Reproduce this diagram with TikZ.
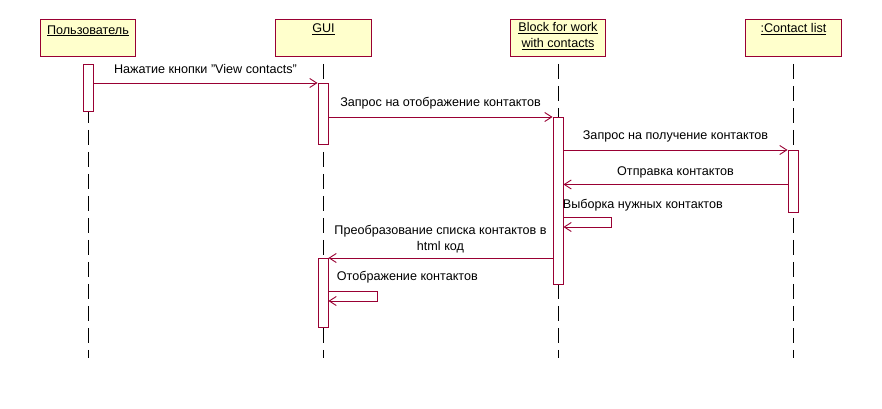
\documentclass[tikz,border=0pt]{standalone}
\usepackage{fontspec}
\setmainfont{Liberation Sans}
\usetikzlibrary{arrows.meta}
\definecolor{umlred}{HTML}{990033}
\definecolor{umlfill}{HTML}{FFFFCC}
\tikzset{
  head/.style={draw=umlred, fill=umlfill, anchor=north west, inner sep=0pt,
    minimum height=37pt},
  headtxt/.style={anchor=north, inner sep=0pt, align=center,
    font=\fontsize{12.6}{16}\selectfont},
  act/.style={draw=umlred, fill=white, anchor=north, inner sep=0pt,
    minimum width=10pt},
  life/.style={dash pattern=on 15pt off 7pt},
  msg/.style={umlred, -{Straight Barb[length=7pt,width=9pt]}},
  lbl/.style={black, inner sep=0pt, align=center, text height=9.5pt, text depth=3pt,
    font=\fontsize{12.6}{16}\selectfont},
}
\begin{document}
\begin{tikzpicture}[x=1pt, y=-1pt, line width=0.9pt]
\path[use as bounding box, fill=white] (0,0) rectangle (882,408);

% lifeline heads
\node[head, minimum width=95pt] (user)  at (40,19)  {};
\node[head, minimum width=96pt] (gui)   at (275,19) {};
\node[head, minimum width=95pt] (block) at (510,19) {};
\node[head, minimum width=96pt] (clist) at (745,19) {};
\node[headtxt] (userT)  at ([yshift=-6pt]user.north)  {\underline{Пользователь}};
\node[headtxt] (guiT)   at ([yshift=-4pt]gui.north)   {\underline{GUI}};
\node[headtxt] (blockT) at ([yshift=-3pt]block.north) {\underline{Block for work}\\\underline{with contacts}};
\node[headtxt] (clistT) at ([yshift=-4pt]clist.north) {\underline{:Contact list}};

% lifelines
\foreach \n in {user,gui,block,clist}
  \draw[life] ([yshift=-7pt]\n.south) -- ++(0,294);

% activations
\node[act, minimum height=47pt]  (uA)  at (88,64)   {};
\node[act, minimum height=61pt]  (gA1) at (323,83)  {};
\node[act, minimum height=167pt] (bA)  at (558,117) {};
\node[act, minimum height=62pt]  (cA)  at (793,150) {};
\node[act, minimum height=69pt]  (gA2) at (323,258) {};

% messages
\draw[msg] (uA.east |- gA1.north) -- (gA1.north west)
  node[lbl, midway, above=6pt] {Нажатие кнопки "View contacts"};
\draw[msg] (gA1.east |- bA.north) -- (bA.north west)
  node[lbl, midway, above=7pt] {Запрос на отображение контактов};
\draw[msg] (bA.east |- cA.north) -- (cA.north west)
  node[lbl, midway, above=7pt] {Запрос на получение контактов};
\draw[msg] ([yshift=-3pt]cA.west) -- ([yshift=-3pt]cA.west -| bA.east)
  node[lbl, midway, above=6pt] {Отправка контактов};
\draw[msg] ([yshift=-100pt]bA.north east) -- ++(48,0) -- ++(0,10) -- ++(-48,0);
\node[lbl, anchor=south west] (selT1) at ([xshift=-1pt,yshift=-95pt]bA.north east) {Выборка нужных контактов};
\draw[msg] (bA.west |- gA2.north) -- (gA2.north east)
  node[lbl, midway, above=4pt] {Преобразование списка контактов в\\html код};
\draw[msg] ([yshift=-33pt]gA2.north east) -- ++(49,0) -- ++(0,10) -- ++(-49,0);
\node[lbl, anchor=south west] (selT2) at ([xshift=8pt,yshift=-26pt]gA2.north east) {Отображение контактов};
\end{tikzpicture}
\end{document}
